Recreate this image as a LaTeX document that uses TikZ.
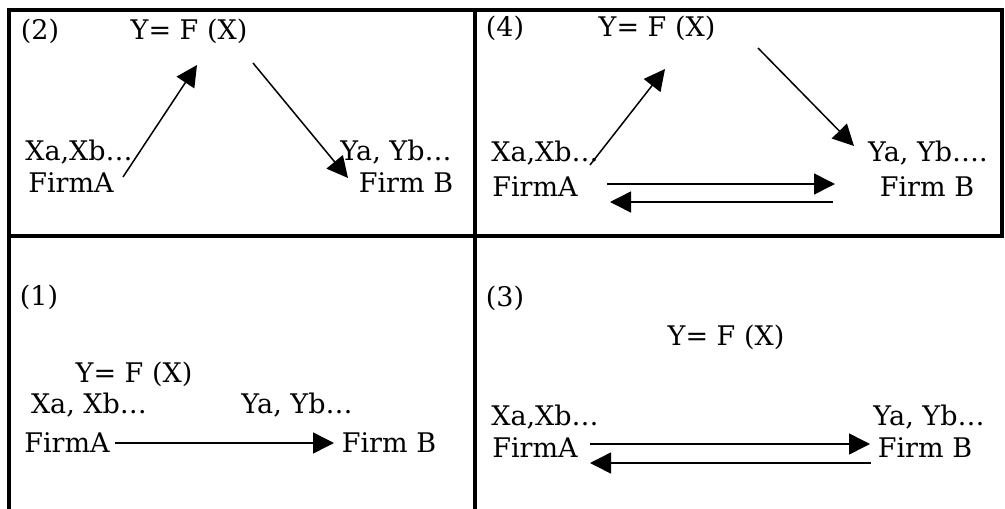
\documentclass[tikz,border=0pt]{standalone}
\usepackage{fontspec}
\setmainfont{DejaVu Serif}
\usetikzlibrary{arrows.meta}

\tikzset{
  lbl/.style={anchor=base, inner sep=0pt, font=\fontsize{27}{32}\selectfont},
  frame/.style={line width=3.6pt, line cap=rect},
  flow/.style={line width=1.5pt, -{Triangle[length=21pt,width=21pt]}}
}

\begin{document}
\begin{tikzpicture}[x=1pt, y=-1pt]
    \useasboundingbox (0,0) rectangle (1005,509);

    % Frame
    \draw[frame] (9,10) -- (1002,10) -- (1002,236);
    \draw[frame] (9,10) -- (9,509);
    \draw[frame] (475,10) -- (475,509);
    \draw[frame] (9,236) -- (1002,236);

    % Panel (2)
    \node[lbl] (num2) at (40,39) {(2)};
    \node[lbl] (fx2) at (189,39) {Y= F (X)};
    \node[lbl] (xa2) at (79,160) {Xa,Xb…};
    \node[lbl] (fa2) at (71,192) {FirmA};
    \node[lbl] (ya2) at (396,160) {Ya, Yb…};
    \node[lbl] (fb2) at (406,192) {Firm B};
    \coordinate (up2a) at (123,177);
    \coordinate (up2b) at (197,65);
    \coordinate (dn2a) at (253,63);
    \coordinate (dn2b) at (348,178);
    \draw[flow] (up2a) -- (up2b);
    \draw[flow] (dn2a) -- (dn2b);

    % Panel (4)
    \node[lbl] (num4) at (505,36) {(4)};
    \node[lbl] (fx4) at (657,36) {Y= F (X)};
    \node[lbl] (xa4) at (545,161) {Xa,Xb…};
    \node[lbl] (fa4) at (535,196) {FirmA};
    \node[lbl] (ya4) at (928,161) {Ya, Yb….};
    \node[lbl] (fb4) at (927,196) {Firm B};
    \coordinate (up4a) at (590,165);
    \coordinate (up4b) at (665,69);
    \coordinate (dn4a) at (758,48);
    \coordinate (dn4b) at (854,146);
    \coordinate (ab4a) at (607,184);
    \coordinate (ab4b) at (835,184);
    \coordinate (ba4a) at (833,202);
    \coordinate (ba4b) at (610,202);
    \draw[flow] (up4a) -- (up4b);
    \draw[flow] (dn4a) -- (dn4b);
    \draw[flow] (ab4a) -- (ab4b);
    \draw[flow] (ba4a) -- (ba4b);

    % Panel (1)
    \node[lbl] (num1) at (39,305) {(1)};
    \node[lbl] (fx1) at (134,382) {Y= F (X)};
    \node[lbl] (xa1) at (89,413) {Xa, Xb…};
    \node[lbl] (ya1) at (297,413) {Ya, Yb…};
    \node[lbl] (fa1) at (67,452) {FirmA};
    \node[lbl] (fb1) at (389,452) {Firm B};
    \coordinate (ab1a) at (115,443);
    \coordinate (ab1b) at (334,443);
    \draw[flow] (ab1a) -- (ab1b);

    % Panel (3)
    \node[lbl] (num3) at (505,306) {(3)};
    \node[lbl] (fx3) at (726,345) {Y= F (X)};
    \node[lbl] (xa3) at (545,425) {Xa,Xb…};
    \node[lbl] (ya3) at (929,425) {Ya, Yb…};
    \node[lbl] (fa3) at (535,457) {FirmA};
    \node[lbl] (fb3) at (925,457) {Firm B};
    \coordinate (ab3a) at (590,444);
    \coordinate (ab3b) at (870,444);
    \coordinate (ba3a) at (871,463);
    \coordinate (ba3b) at (590,463);
    \draw[flow] (ab3a) -- (ab3b);
    \draw[flow] (ba3a) -- (ba3b);
\end{tikzpicture}
\end{document}
